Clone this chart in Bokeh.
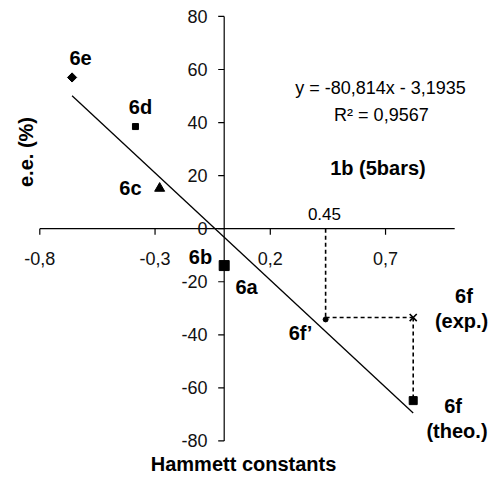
import numpy as np
from bokeh.plotting import figure
from bokeh.models import Range1d, Label
from bokeh.core.properties import value
from bokeh.embed import file_html
from bokeh.resources import INLINE

# ---- data ----
compounds = ["6e", "6d", "6c", "6b", "6f'", "6f (theo.)", "6f (exp.)"]
hammett = [-0.66, -0.385, -0.28, 0.0, 0.44, 0.82, 0.82]
ee = [57.0, 38.5, 15.2, -13.9, -34.2, -64.8, -33.5]

trend_x = [-0.66, 0.82]
trend_y = [50.1, -69.5]

x_ticks = [-0.8, -0.3, 0.2, 0.7]
x_tick_labels = ["-0,8", "-0,3", "0,2", "0,7"]
y_ticks = [-80, -60, -40, -20, 0, 20, 40, 60, 80]
y_tick_labels = ["-80", "-60", "-40", "-20", "0", "20", "40", "60", "80"]

x_axis_span = [-0.8, 1.0]
y_axis_span = [-80, 80]

equation = "y = -80,814x - 3,1935"
r_squared = "R\u00b2 = 0,9567"
condition = "1b (5bars)"
x_title = "Hammett constants"
y_title = "e.e. (%)"

FONT = "Liberation Sans"

p = figure(width=494, height=477, output_backend="svg", toolbar_location=None,
           x_range=Range1d(-0.9705, 1.1727), y_range=Range1d(-93.78, 86.01),
           x_axis_location=None, y_axis_location=None, min_border=0,
           title=None)
p.grid.visible = False
p.outline_line_color = None

# axes drawn at the origin
p.segment(x0=[x_axis_span[0]], y0=[0], x1=[x_axis_span[1]], y1=[0],
          line_color="black", line_width=1.2)
p.segment(x0=[0], y0=[y_axis_span[0]], x1=[0], y1=[y_axis_span[1]],
          line_color="black", line_width=1.2)
# ticks
xt_len = 6 / 2.653
yt_len = 6 / 230.5
p.segment(x0=x_ticks, y0=[0] * len(x_ticks), x1=x_ticks, y1=[-xt_len] * len(x_ticks),
          line_color="black", line_width=1.2)
p.segment(x0=[0] * len(y_ticks), y0=y_ticks, x1=[-yt_len] * len(y_ticks), y1=y_ticks,
          line_color="black", line_width=1.2)
# tick labels
p.text(x=x_ticks, y=[-11.3] * len(x_ticks), text=x_tick_labels,
       text_align="center", text_baseline="middle",
       text_font=value(FONT), text_font_size="18px", text_color="#111111")
p.text(x=[-0.0725] * len(y_ticks), y=y_ticks, text=y_tick_labels,
       text_align="right", text_baseline="middle",
       text_font=value(FONT), text_font_size="18px", text_color="#111111")

# trendline
p.line(trend_x, trend_y, line_color="black", line_width=1.3)

# dashed construction lines (6f' -> 6f exp. -> 6f theo.)
x_f1, y_f1 = hammett[4], ee[4]
x_te, y_te = hammett[5], ee[5]
x_ex, y_ex = hammett[6], ee[6]
p.line([x_f1, x_f1], [0, y_f1], line_color="black", line_width=1.6, line_dash="4 3")
p.line([x_f1, x_ex], [y_ex, y_ex], line_color="black", line_width=1.6, line_dash="4 3")
p.line([x_ex, x_te], [y_ex, y_te], line_color="black", line_width=1.6, line_dash="4 3")

# markers
p.scatter([hammett[0]], [ee[0]], marker="square", angle=np.pi / 4, size=6.5, color="black")
p.scatter([hammett[1]], [ee[1]], marker="square", size=6, color="black")
p.scatter([hammett[2]], [ee[2]], marker="triangle", size=10, color="black")
p.scatter([hammett[3]], [ee[3]], marker="square", size=10, color="black")
p.scatter([hammett[4]], [ee[4]], marker="circle", size=5, color="black")
p.scatter([hammett[5]], [ee[5]], marker="square", size=8, color="black")
p.scatter([hammett[6]], [ee[6]], marker="x", size=10, line_width=1.6, color="black")

def lab(x, y, text, size="20px", bold=True, angle=0, align="center"):
    p.add_layout(Label(x=x, y=y, text=text, text_align=align, text_baseline="middle",
                       text_font=FONT, text_font_size=size,
                       text_font_style="bold" if bold else "normal",
                       text_color="black", angle=angle, angle_units="deg"))

# point labels
lab(-0.623, 64.5, "6e")
lab(-0.363, 45.8, "6d")
lab(-0.407, 15.5, "6c")
lab(-0.103, -10.7, "6b")
lab(0.097, -21.8, "6a")
lab(0.331, -39.5, "6f\u2019")
lab(1.040, -25.2, "6f")
lab(1.030, -34.8, "(exp.)")
lab(0.993, -66.8, "6f")
lab(1.010, -76.3, "(theo.)")

# annotations
lab(0.678, 53.2, equation, size="18px", bold=False)
lab(0.682, 42.9, r_squared, size="18px", bold=False)
lab(0.667, 22.9, condition)
lab(0.435, 5.5, "0.45", size="17px", bold=False)

# axis titles
lab(0.084, -88.6, x_title)
lab(-0.858, 28.9, y_title, angle=90)

open("out.html", "w").write(file_html(p, INLINE))
